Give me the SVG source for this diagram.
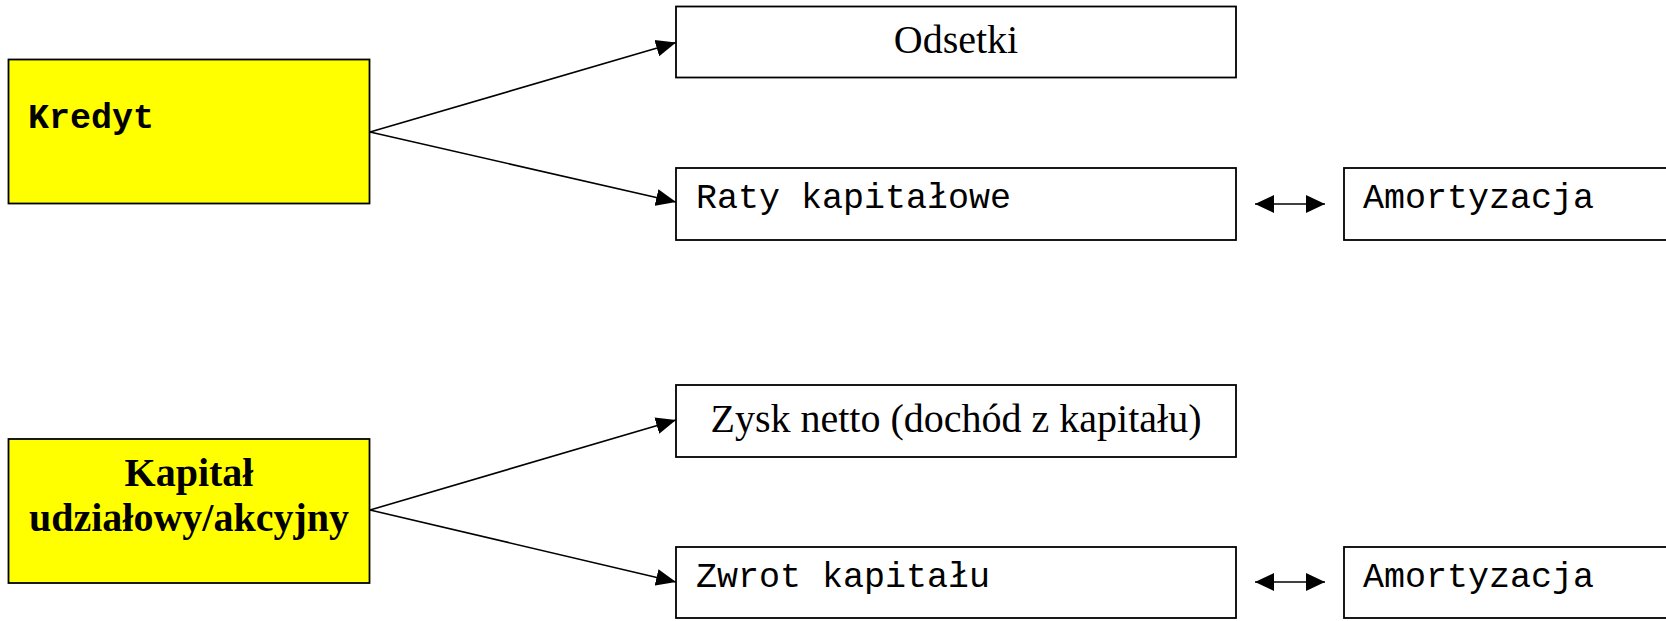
<svg xmlns="http://www.w3.org/2000/svg" width="1666" height="621" viewBox="0 0 1666 621">
  <style>
    .box { fill: #ffffff; stroke: #000000; stroke-width: 1.8; }
    .ybox { fill: #ffff00; stroke: #000000; stroke-width: 1.8; }
    .serif { font-family: "Liberation Serif", "Times New Roman", serif; font-size: 40px; fill: #000; }
    .bserif { font-family: "Liberation Serif", "Times New Roman", serif; font-size: 40px; font-weight: bold; fill: #000; }
    .mono { font-family: "Liberation Mono", "Courier New", monospace; font-size: 35px; fill: #000; }
    .bmono { font-family: "Liberation Mono", "Courier New", monospace; font-size: 35px; font-weight: bold; fill: #000; }
    .conn { stroke: #000; stroke-width: 1.6; fill: none; }
  </style>
  <defs>
    <marker id="arr" markerUnits="userSpaceOnUse" markerWidth="20" markerHeight="18" refX="20" refY="9" orient="auto-start-reverse">
      <path d="M0,0.5 L20,9 L0,17.5 Z" fill="#000"/>
    </marker>
    <marker id="arr2" markerUnits="userSpaceOnUse" markerWidth="19" markerHeight="19" refX="19" refY="9.5" orient="auto-start-reverse">
      <path d="M0,0.5 L19,9.5 L0,18.5 Z" fill="#000"/>
    </marker>
  </defs>
  <rect width="1666" height="621" fill="#ffffff"/>

  <g id="node-kredyt">
    <rect class="ybox" x="8.5" y="59.5" width="361" height="144"/>
    <text class="bmono" x="28" y="128">Kredyt</text>
  </g>
  <g id="node-odsetki">
    <rect class="box" x="676" y="6.5" width="560" height="71"/>
    <text class="serif" x="956" y="53" text-anchor="middle">Odsetki</text>
  </g>
  <g id="node-raty">
    <rect class="box" x="676" y="168" width="560" height="72"/>
    <text class="mono" x="696" y="208">Raty kapitałowe</text>
  </g>
  <g id="node-amortyzacja1">
    <rect class="box" x="1344" y="168" width="340" height="72"/>
    <text class="mono" x="1363" y="208">Amortyzacja</text>
  </g>
  <g id="node-kapital">
    <rect class="ybox" x="8.5" y="439" width="361" height="144"/>
    <text class="bserif" x="189" y="486" text-anchor="middle">Kapitał</text>
    <text class="bserif" x="189" y="531" text-anchor="middle">udziałowy/akcyjny</text>
  </g>
  <g id="node-zysk">
    <rect class="box" x="676" y="385" width="560" height="72"/>
    <text class="serif" x="956" y="432" text-anchor="middle">Zysk netto (dochód z kapitału)</text>
  </g>
  <g id="node-zwrot">
    <rect class="box" x="676" y="547" width="560" height="71"/>
    <text class="mono" x="696" y="587">Zwrot kapitału</text>
  </g>
  <g id="node-amortyzacja2">
    <rect class="box" x="1344" y="547" width="340" height="71"/>
    <text class="mono" x="1363" y="587">Amortyzacja</text>
  </g>

  <g id="connectors">
    <line class="conn" x1="370" y1="132" x2="676" y2="42.5" marker-end="url(#arr)"/>
    <line class="conn" x1="370" y1="132" x2="676" y2="202" marker-end="url(#arr)"/>
    <line class="conn" x1="370" y1="510" x2="676" y2="420" marker-end="url(#arr)"/>
    <line class="conn" x1="370" y1="510" x2="676" y2="582" marker-end="url(#arr)"/>
    <line class="conn" x1="1255" y1="204" x2="1325" y2="204" marker-start="url(#arr2)" marker-end="url(#arr2)"/>
    <line class="conn" x1="1255" y1="582" x2="1325" y2="582" marker-start="url(#arr2)" marker-end="url(#arr2)"/>
  </g>
</svg>
